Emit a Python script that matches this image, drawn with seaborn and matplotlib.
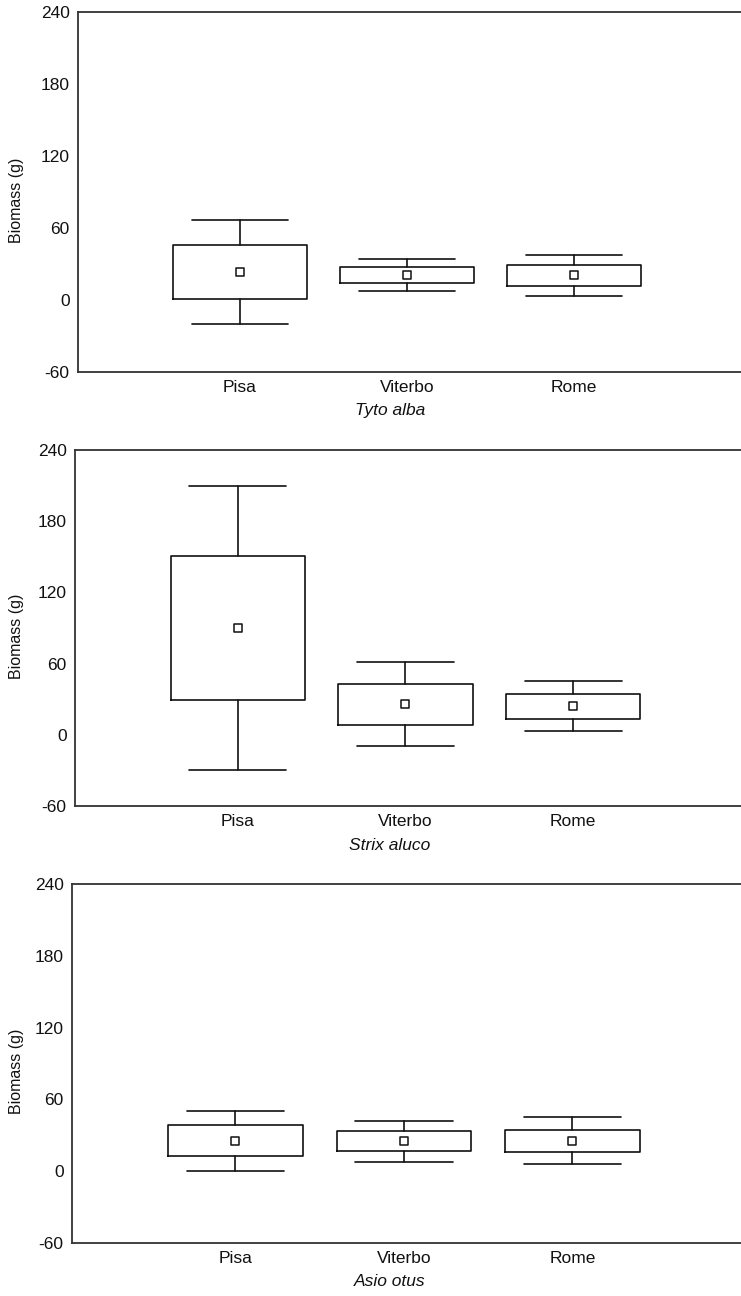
import matplotlib
matplotlib.use("Agg")
import matplotlib.pyplot as plt
import seaborn as sns

sites = ["Pisa", "Viterbo", "Rome"]
species = ["Tyto alba", "Strix aluco", "Asio otus"]

# Mean biomass per site and species
means = {
    "Tyto alba":   [23.3, 21.2, 20.6],
    "Strix aluco": [89.9, 25.8, 24.4],
    "Asio otus":   [25.4, 24.9, 25.4],
}
# Box limits (lower / upper)
box_low = {
    "Tyto alba":   [0.8, 14.4, 11.9],
    "Strix aluco": [29.1, 8.6, 13.7],
    "Asio otus":   [12.9, 16.5, 16.0],
}
box_high = {
    "Tyto alba":   [45.8, 27.8, 29.2],
    "Strix aluco": [150.9, 43.2, 34.8],
    "Asio otus":   [38.2, 33.2, 34.6],
}
# Whisker limits (lower / upper)
whisk_low = {
    "Tyto alba":   [-20.0, 7.8, 3.3],
    "Strix aluco": [-29.9, -9.4, 3.3],
    "Asio otus":   [0.4, 7.6, 6.2],
}
whisk_high = {
    "Tyto alba":   [66.7, 34.2, 37.5],
    "Strix aluco": [209.6, 61.2, 45.5],
    "Asio otus":   [50.5, 42.1, 44.9],
}
yticks = [-60, 0, 60, 120, 180, 240]

sns.set_theme(style="white")
plt.rcParams["font.family"] = ["Liberation Sans", "DejaVu Sans"]

fig = plt.figure(figsize=(7.41, 12.96), dpi=100)
W, H = 741, 1296
# panel extents in pixels: left, top, bottom
panels = [(78, 12, 372), (75, 450, 806), (72, 884, 1243)]

for sp, (lpx, tpx, bpx) in zip(species, panels):
    ax = fig.add_axes([lpx / W, 1 - bpx / H, (W - lpx) / W, (bpx - tpx) / H])
    pos = list(range(len(sites)))
    stats = []
    for i, s in enumerate(sites):
        stats.append(dict(med=means[sp][i], q1=box_low[sp][i], q3=box_high[sp][i],
                          whislo=whisk_low[sp][i], whishi=whisk_high[sp][i],
                          fliers=[], label=s))
    ax.bxp(stats, positions=pos, widths=0.8, capwidths=0.58, showfliers=False,
           boxprops=dict(color="#111111", linewidth=1.2),
           whiskerprops=dict(color="#111111", linewidth=1.2),
           capprops=dict(color="#111111", linewidth=1.2),
           medianprops=dict(linewidth=0, alpha=0))
    sns.scatterplot(x=pos, y=means[sp], marker="s", s=30, facecolor="white",
                    edgecolor="#111111", linewidth=1.1, ax=ax, zorder=5)
    ax.set_xlim(-0.97, 3.0)
    ax.set_ylim(-60, 240)
    ax.set_yticks(yticks)
    ax.set_yticklabels([str(v) for v in yticks], fontsize=12.5, color="#111111")
    ax.set_xticks(pos)
    ax.set_xticklabels(sites, fontsize=12.5, color="#111111")
    ax.tick_params(axis="both", length=0, pad=6)
    ax.set_ylabel("")
    ax.set_xlabel("")
    for side in ["left", "top", "bottom"]:
        ax.spines[side].set_color("#333333")
        ax.spines[side].set_linewidth(1.3)
    ax.spines["right"].set_visible(False)

    # y-axis title and species name, placed in figure pixels
    mid = (tpx + bpx) / 2 + 8
    fig.text(17 / W, 1 - mid / H, "Biomass (g)", rotation=90, ha="center",
             va="center", fontsize=11.5, color="#111111")
    fig.text(390 / W, 1 - (bpx + 39) / H, sp, ha="center", va="center",
             fontsize=12.5, style="italic", color="#111111")

fig.savefig("out.png", dpi=100, facecolor="white")
